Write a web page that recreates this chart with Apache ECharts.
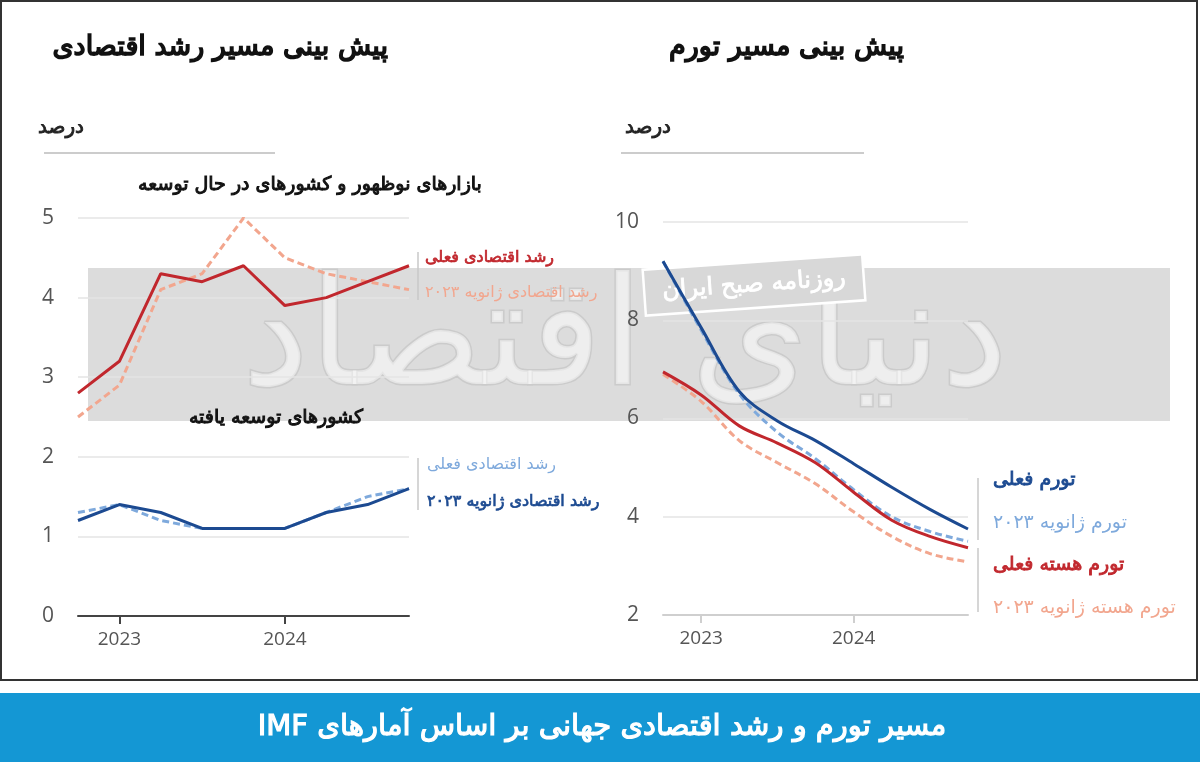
<!DOCTYPE html>
<html>
<head>
<meta charset="utf-8">
<script src="https://cdn.jsdelivr.net/npm/echarts@6/dist/echarts.min.js"></script>
<style>
  body { margin: 0; background: #fff; }
  #chart { width: 1200px; height: 762px; }
</style>
</head>
<body>
<div id="chart" dir="rtl"></div>
<script>
// quarters shown on both panels, year ticks at Q1
var quarters = ['Q4 2022', 'Q1 2023', 'Q2 2023', 'Q3 2023', 'Q4 2023', 'Q1 2024', 'Q2 2024', 'Q3 2024', 'Q4 2024'];

// growth (percent)
var emActual = [2.8, 3.2, 4.3, 4.2, 4.4, 3.9, 4.0, 4.2, 4.4];
var emJan23 = [2.5, 2.9, 4.1, 4.3, 5.0, 4.5, 4.3, 4.2, 4.1];
var advActual = [1.2, 1.4, 1.3, 1.1, 1.1, 1.1, 1.3, 1.4, 1.6];
var advJan23 = [1.3, 1.4, 1.2, 1.1, 1.1, 1.1, 1.3, 1.5, 1.6];

// inflation (percent)
var headActual = [9.2, 7.85, 6.55, 5.95, 5.55, 5.08, 4.6, 4.15, 3.75];
var headJan23 = [9.2, 7.8, 6.5, 5.72, 5.18, 4.55, 4.0, 3.7, 3.5];
var coreActual = [6.95, 6.48, 5.85, 5.5, 5.1, 4.5, 3.93, 3.6, 3.37];
var coreJan23 = [6.9, 6.35, 5.55, 5.1, 4.67, 4.1, 3.6, 3.25, 3.08];

var RED = '#c1272d', SALMON = '#f2a68e', NAVY = '#1c4a91', SKY = '#7ea9dc';
var FA = 'DejaVu Sans';

var chart = echarts.init(document.getElementById('chart'));

function isYearStart(idx, val) {
    return String(val).indexOf('Q1') === 0;
}

function xAxisFor(gridIndex, lineColor) {
    return {
        type: 'category',
        gridIndex: gridIndex,
        data: quarters,
        boundaryGap: false,
        axisLine: { lineStyle: { color: lineColor, width: 2 } },
        axisTick: { interval: isYearStart, length: 8, lineStyle: { color: lineColor, width: 2 } },
        axisLabel: {
            interval: isYearStart,
            formatter: function (v) { return v.split(' ')[1]; },
            color: '#555', fontSize: 19, fontFamily: 'Open Sans', margin: 14
        },
        splitLine: { show: false }
    };
}

function yAxisFor(gridIndex, min, max, step) {
    return {
        type: 'value',
        gridIndex: gridIndex,
        min: min, max: max, interval: step,
        axisLine: { show: false },
        axisTick: { show: false },
        axisLabel: { color: '#555', fontSize: 21, fontFamily: 'Open Sans', margin: 24 },
        splitLine: { lineStyle: { color: '#e4e4e4', width: 1.5 } }
    };
}

function line(name, data, axis, color, dashed, smooth) {
    return {
        name: name,
        type: 'line',
        xAxisIndex: axis, yAxisIndex: axis,
        data: data,
        symbol: 'none',
        smooth: smooth ? 0.35 : false,
        z: dashed ? 3 : 4,
        lineStyle: { color: color, width: 3, type: dashed ? [7, 4] : 'solid' }
    };
}

// bold look is faked with a thin stroke so the Persian text keeps its width
function label(text, x, y, color, size, bold, align) {
    return {
        type: 'text', x: x, y: y, z: 20,
        style: {
            text: text, fill: color, fontSize: size, fontFamily: FA,
            stroke: bold ? color : null, lineWidth: bold ? bold : 0,
            align: align || 'left', verticalAlign: 'middle'
        }
    };
}

function seg(x1, y1, x2, y2, color, w) {
    return {
        type: 'line', z: 20,
        shape: { x1: x1, y1: y1, x2: x2, y2: y2 },
        style: { stroke: color, lineWidth: w || 1.5 }
    };
}

option = {
    animation: false,
    backgroundColor: '#fff',
    grid: [
        { left: 78, right: 791, top: 218, bottom: 146 },
        { left: 663, right: 232, top: 222, bottom: 147 }
    ],
    xAxis: [xAxisFor(0, '#444'), xAxisFor(1, '#cfcfcf')],
    yAxis: [yAxisFor(0, 0, 5, 1), yAxisFor(1, 2, 10, 2)],
    series: [
        line('emJan23', emJan23, 0, SALMON, true, false),
        line('emActual', emActual, 0, RED, false, false),
        line('advJan23', advJan23, 0, SKY, true, false),
        line('advActual', advActual, 0, NAVY, false, false),
        line('headJan23', headJan23, 1, SKY, true, true),
        line('headActual', headActual, 1, NAVY, false, true),
        line('coreJan23', coreJan23, 1, SALMON, true, true),
        line('coreActual', coreActual, 1, RED, false, true)
    ],
    graphic: [
        // watermark band
        { type: 'rect', z: -10, shape: { x: 88, y: 268, width: 1082, height: 153 }, style: { fill: '#dcdcdc' } },
        {
            type: 'text', x: 625, y: 345, z: -5,
            style: {
                text: 'دنیای اقتصاد', fontSize: 150, fontFamily: FA,
                fill: 'rgba(255,255,255,0.5)', stroke: '#cbcbcb', lineWidth: 3,
                align: 'center', verticalAlign: 'middle'
            }
        },
        {
            type: 'group', x: 754, y: 285, rotation: 0.07, z: -4,
            children: [
                { type: 'rect', z: -4, shape: { x: -110, y: -23, width: 220, height: 46 }, style: { fill: '#d8d8d8', stroke: '#fff', lineWidth: 2.5 } },
                { type: 'text', z: -4, style: { text: 'روزنامه صبح ایران', fill: '#fff', stroke: '#fff', lineWidth: 0.8, fontSize: 24, fontFamily: FA, align: 'center', verticalAlign: 'middle' } }
            ]
        },
        // frame and banner
        { type: 'rect', z: 20, shape: { x: 1, y: 1, width: 1196, height: 679 }, style: { fill: 'none', stroke: '#333', lineWidth: 2 } },
        { type: 'rect', z: 20, shape: { x: 0, y: 693, width: 1200, height: 69 }, style: { fill: '#1497d4' } },
        label('مسیر تورم و رشد اقتصادی جهانی بر اساس آمارهای IMF', 602, 727, '#fff', 29, 1.2, 'center'),
        // titles
        label('پیش بینی مسیر رشد اقتصادی', 388, 48, '#111', 27, 1.6, 'right'),
        label('پیش بینی مسیر تورم', 904, 48, '#111', 27, 1.6, 'right'),
        label('درصد', 84, 128, '#222', 20, 0.9, 'right'),
        label('درصد', 671, 128, '#222', 20, 0.9, 'right'),
        seg(44, 153, 275, 153, '#cccccc', 2),
        seg(621, 153, 864, 153, '#cccccc', 2),
        // growth panel
        label('بازارهای نوظهور و کشورهای در حال توسعه', 310, 185, '#111', 19, 1, 'center'),
        label('کشورهای توسعه یافته', 276, 418, '#111', 19, 1, 'center'),
        label('رشد اقتصادی فعلی', 425, 258, RED, 16, 0.7),
        label('رشد اقتصادی ژانویه ۲۰۲۳', 425, 293, SALMON, 16, 0),
        seg(418, 252, 418, 300, '#c8c8c8'),
        label('رشد اقتصادی فعلی', 427, 465, SKY, 16, 0),
        label('رشد اقتصادی ژانویه ۲۰۲۳', 427, 502, NAVY, 16, 0.7),
        seg(418, 458, 418, 510, '#c8c8c8'),
        // inflation panel
        label('تورم فعلی', 993, 480, NAVY, 19, 0.9),
        label('تورم ژانویه ۲۰۲۳', 993, 523, SKY, 19, 0),
        label('تورم هسته فعلی', 993, 565, RED, 19, 0.9),
        label('تورم هسته ژانویه ۲۰۲۳', 993, 608, SALMON, 19, 0),
        seg(978, 478, 978, 540, '#c8c8c8'),
        seg(978, 548, 978, 612, '#c8c8c8')
    ]
};

chart.setOption(option);
</script>
</body>
</html>
